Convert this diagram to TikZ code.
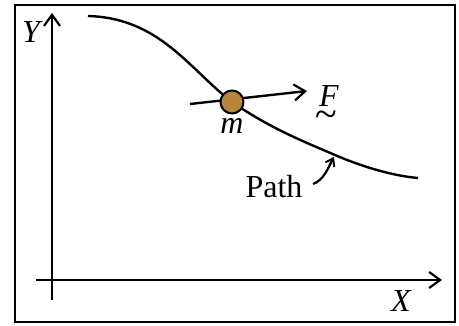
\documentclass[tikz,border=0pt]{standalone}
\usepackage{fontspec}
\setmainfont{Liberation Serif}
\usetikzlibrary{arrows.meta}
\begin{document}
\begin{tikzpicture}[x=1pt,y=-1pt,
  barb/.style={-{Straight Barb[length=11pt,width=16pt,line width=2.2pt]}},
  axis/.style={line width=2.4pt,barb},
  curve/.style={line width=2.4pt},
  lbl/.style={font=\fontsize{32}{36}\selectfont}]
\useasboundingbox (0,0) rectangle (459,326);
\draw[line width=2.4pt] (15,5) rectangle (455,322);
% axes
\coordinate (yb) at (52,300);
\coordinate (yt) at (52,13);
\coordinate (xl) at (36,280);
\coordinate (xr) at (442,280);
\draw[axis] (yb) -- (yt);
\draw[axis] (xl) -- (xr);
\node[lbl] (ylab) at (31,32) {\itshape Y};
\node[lbl] (xlab) at (401,301) {\itshape X};
% path curve
\coordinate (c0) at (88,16);
\coordinate (c3) at (418,178);
\draw[curve] (c0) .. controls (160,18) and (190,70) .. (232,102)
  .. controls (270,128) and (300,140) .. (335,155)
  .. controls (365,168) and (395,176) .. (c3);
% force
\coordinate (fs) at (190,104);
\coordinate (fe) at (307,91);
\draw[line width=2.4pt,barb] (fs) -- (fe);
\node[circle,draw,line width=2pt,fill={rgb,255:red,184;green,134;blue,59},minimum size=23pt,inner sep=0pt] (m) at (232,102) {};
\node[lbl] (mlab) at (232,126) {\itshape m};
\node[lbl,inner sep=0pt] (flab) at (329,96) {\itshape F};
\node[font=\fontsize{40}{44}\selectfont,inner sep=0pt] (ftil) at (326,119) {\textasciitilde};
% path label
\node[lbl] (plab) at (274,187) {Path};
\coordinate (pt) at (334,157);
\draw[line width=2.2pt,-{Straight Barb[length=7pt,width=10pt,line width=2pt]}] (313,184) .. controls (324,180) and (328,168) .. (pt);
\end{tikzpicture}
\end{document}
